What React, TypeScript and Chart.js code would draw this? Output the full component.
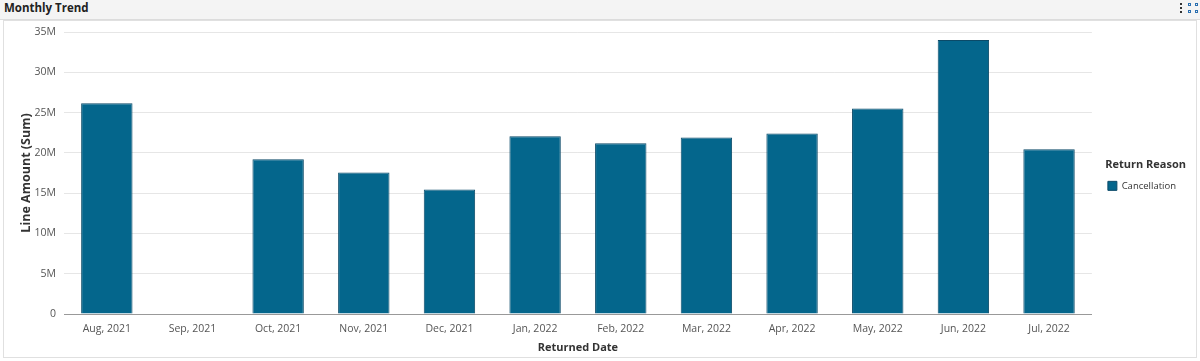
import React, { useEffect, useRef } from "react";
import { Chart, registerables } from "chart.js";

Chart.register(...registerables);

const categories = [
  "Aug, 2021", "Sep, 2021", "Oct, 2021", "Nov, 2021", "Dec, 2021", "Jan, 2022",
  "Feb, 2022", "Mar, 2022", "Apr, 2022", "May, 2022", "Jun, 2022", "Jul, 2022",
];
const cancellationValues = [
  26.15e6, null, 19.2e6, 17.55e6, 15.45e6, 22.05e6,
  21.2e6, 21.9e6, 22.4e6, 25.5e6, 34.0e6, 20.45e6,
];
const seriesName = "Cancellation";
const legendTitle = "Return Reason";
const yTitle = "Line Amount (Sum)";
const xTitle = "Returned Date";
const chartTitle = "Monthly Trend";
const yMax = 35e6;
const yStep = 5e6;

const FONT = "'Open Sans', 'Noto Sans', sans-serif";
const FILL = "#04668c";
const EDGE = "#0b4a68";

export default function App() {
  const ref = useRef<HTMLCanvasElement | null>(null);

  useEffect(() => {
    document.body.style.margin = "0";
    const ctx = ref.current!;
    const chart = new Chart(ctx, {
      type: "bar",
      data: {
        labels: categories,
        datasets: [
          {
            label: seriesName,
            data: cancellationValues as any,
            backgroundColor: FILL,
            borderColor: EDGE,
            borderWidth: 1,
            categoryPercentage: 0.6,
            barPercentage: 1,
          },
        ],
      },
      options: {
        animation: false,
        responsive: false,
        maintainAspectRatio: false,
        layout: { padding: { top: 11, left: 0, right: 10, bottom: 0 } },
        plugins: {
          tooltip: { enabled: false },
          legend: {
            position: "right",
            align: "center",
            fullSize: false,
            title: {
              display: true,
              text: legendTitle,
              position: "end",
              color: "#333",
              font: { family: FONT, size: 11, weight: "bold" },
              padding: { top: 20, bottom: -7.5 } as any,
            },
            labels: {
              boxWidth: 9,
              boxHeight: 9,
              color: "#333",
              padding: 16,
              font: { family: FONT, size: 9.5 },
              generateLabels: () => [
                {
                  text: seriesName,
                  fillStyle: FILL,
                  strokeStyle: EDGE,
                  lineWidth: 1,
                  hidden: false,
                  datasetIndex: 0,
                } as any,
              ],
            },
          },
        },
        scales: {
          x: {
            afterFit: (s: any) => {
              s.height = 43;
            },
            grid: { display: false, drawTicks: false },
            border: { display: true, color: "#999", width: 1 },
            ticks: { color: "#555", font: { family: FONT, size: 10.5 }, padding: 9, maxRotation: 0 },
            title: {
              display: true,
              text: xTitle,
              color: "#333",
              font: { family: FONT, size: 11, weight: "bold" },
              padding: { top: 0, bottom: 2.4 },
            },
          },
          y: {
            min: 0,
            max: yMax,
            afterFit: (s: any) => {
              s.width = 60;
              s.paddingTop = 0;
              s.paddingBottom = 0;
            },
            border: { display: false },
            grid: {
              color: (c: any) => (c.tick && c.tick.value === 0 ? "#999" : "#e6e6e6"),
              drawTicks: false,
            },
            ticks: {
              stepSize: yStep,
              color: "#555",
              padding: 8,
              font: { family: FONT, size: 10.5 },
              callback: (v: any) => (v === 0 ? "0" : `${Number(v) / 1e6}M`),
            },
            title: {
              display: true,
              text: yTitle,
              color: "#333",
              font: { family: FONT, size: 12.5, weight: "bold" },
              padding: { top: 14.5, bottom: 0 },
            },
          },
        },
      },
    });
    return () => chart.destroy();
  }, []);

  return (
    <div style={{ position: "relative", width: 1200, height: 361, background: "#fff", fontFamily: FONT, overflow: "hidden" }}>
      <div
        style={{
          position: "absolute",
          left: 0,
          top: 0,
          width: 1200,
          height: 19,
          background: "#f4f4f4",
          borderBottom: "1px solid #dcdcdc",
        }}
      >
        <div style={{ position: "absolute", left: 4, top: 0, fontSize: 11.5, fontWeight: 700, color: "#222", lineHeight: "16px" }}>
          {chartTitle}
        </div>
        <div style={{ position: "absolute", left: 1180, top: 3, width: 2, height: 10 }}>
          {[0, 4, 8].map((t) => (
            <div key={t} style={{ position: "absolute", top: t, left: 0, width: 2, height: 2, background: "#333" }} />
          ))}
        </div>
        <div style={{ position: "absolute", left: 1188, top: 3, width: 10, height: 10 }}>
          {[
            [0, 0], [7, 0], [0, 7], [7, 7],
          ].map(([x, y], i) => (
            <div key={i} style={{ position: "absolute", left: x, top: y, width: 3, height: 3, border: "1px solid #2a6fb0", boxSizing: "border-box" }} />
          ))}
        </div>
      </div>
      <div
        style={{
          position: "absolute",
          left: 3,
          top: 20,
          width: 1194,
          height: 338,
          border: "1px solid #e0e0e0",
          boxSizing: "border-box",
        }}
      />
      <canvas ref={ref} width={1192} height={336} style={{ position: "absolute", left: 4, top: 21, width: 1192, height: 336 }} />
    </div>
  );
}
